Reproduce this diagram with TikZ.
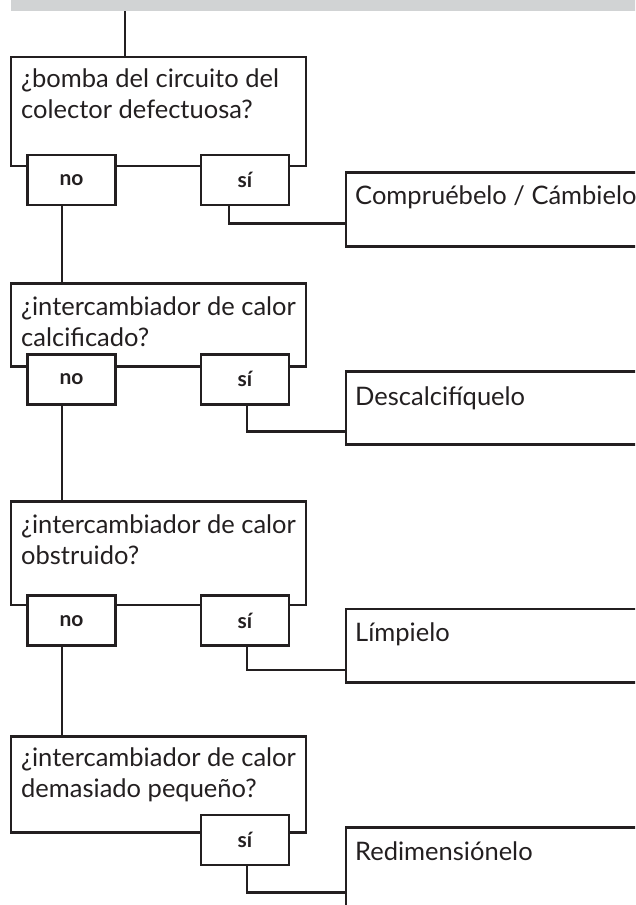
\documentclass[tikz,border=0pt]{standalone}
\usepackage{fontspec}
\setmainfont{Lato}
\definecolor{ink}{HTML}{231F20}
\definecolor{barcol}{HTML}{D1D3D4}
\begin{document}
\begin{tikzpicture}[x=1pt,y=-1pt,
  qbox/.style={draw=ink, line width=2.8pt, anchor=north west, minimum width=295pt, inner sep=0pt, outer sep=0pt},
  qtext/.style={anchor=base west, align=left, inner sep=0pt, text=ink, font=\fontsize{25.5}{31}\selectfont},
  lbl/.style={draw=ink, fill=white, line width=2.8pt, anchor=north west, minimum width=88pt, minimum height=50pt, inner sep=0pt, outer sep=0pt, text=ink, font=\fontsize{21}{24}\selectfont\bfseries},
  abox/.style={draw=ink, line width=2.8pt, anchor=north west, minimum width=330pt, inner sep=0pt, outer sep=0pt},
  atext/.style={anchor=base west, inner sep=0pt, text=ink, font=\fontsize{25.5}{31}\selectfont},
  conn/.style={draw=ink, line width=2.8pt}]
\useasboundingbox (0,0) rectangle (635,905);
\clip (0,0) rectangle (635,905);
% header bar
\node[fill=barcol, anchor=north west, minimum width=640pt, minimum height=12pt, inner sep=0pt, outer sep=0pt] (bar) at (11,-1) {};
% question boxes
\node[qbox, minimum height=109pt] (q1) at (11,57) {};
\node[qbox, minimum height=83.4pt] (q2) at (11,283.3) {};
\node[qbox, minimum height=103.3pt] (q3) at (11,501.7) {};
\node[qbox, minimum height=95.6pt] (q4) at (11,736.7) {};
% (anchor = baseline of the last line)
\node[qtext] (t1) at (21,118.5) {¿bomba del circuito del\\colector defectuosa?};
\node[qtext] (t2) at (21,346) {¿intercambiador de calor\\calcificado?};
\node[qtext] (t3) at (21,564) {¿intercambiador de calor\\obstruido?};
\node[qtext] (t4) at (21,797.5) {¿intercambiador de calor\\demasiado pequeño?};
% answer boxes
\node[abox, minimum height=74pt] (a1) at (346,172.5) {};
\node[abox, minimum height=72.5pt] (a2) at (346,371.7) {};
\node[abox, minimum height=73.3pt] (a3) at (346,609) {};
\node[abox, minimum height=120pt] (a4) at (346,827.7) {};
\node[atext] (a1t) at (355,204) {Compruébelo / Cámbielo};
\node[atext] (a2t) at (355,405) {Descalcifíquelo};
\node[atext] (a3t) at (355,641) {Límpielo};
\node[atext] (a4t) at (355,860) {Redimensiónelo};
% connector guide coordinates
\coordinate (topx) at (125,0);
\coordinate (nx) at (62,0);
\coordinate (e1) at (229,223.5);
\coordinate (e2) at (247,431.7);
\coordinate (e3) at (247,670);
\coordinate (e4) at (247,892.3);
% labels
\node[lbl] (n1) at (27.5,155) {no};
\node[lbl] (s1) at (201,155) {sí};
\node[lbl] (n2) at (27.5,354.3) {no};
\node[lbl] (s2) at (201,354.3) {sí};
\node[lbl] (n3) at (27.5,595.7) {no};
\node[lbl] (s3) at (201,595.7) {sí};
\node[lbl] (s4) at (201,815) {sí};
% connectors
\draw[conn] (bar.south -| topx) -- (q1.north -| topx);
\draw[conn] (n1.south -| nx) -- (q2.north -| nx);
\draw[conn] (n2.south -| nx) -- (q3.north -| nx);
\draw[conn] (n3.south -| nx) -- (q4.north -| nx);
\draw[conn] (s1.south -| e1) -- (e1) -- (a1.west |- e1);
\draw[conn] (s2.south -| e2) -- (e2) -- (a2.west |- e2);
\draw[conn] (s3.south -| e3) -- (e3) -- (a3.west |- e3);
\draw[conn] (s4.south -| e4) -- (e4) -- (a4.west |- e4);
\end{tikzpicture}
\end{document}
